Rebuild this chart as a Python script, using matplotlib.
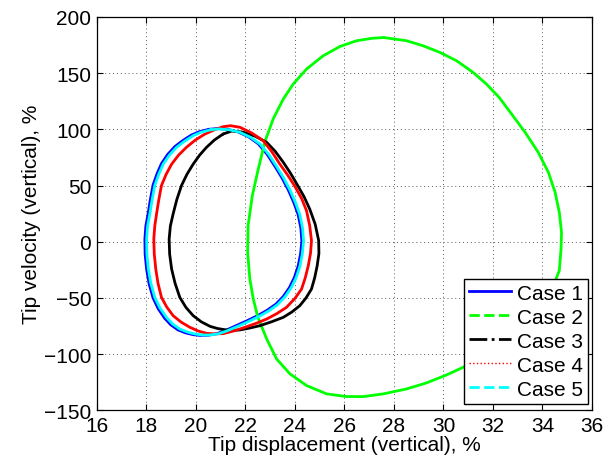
import matplotlib
matplotlib.use("Agg")
import matplotlib.pyplot as plt
from matplotlib.lines import Line2D

plt.rcParams['font.family'] = ['Liberation Sans', 'DejaVu Sans']

# Phase portraits: tip displacement (%) vs tip velocity (%), one closed orbit per case,
# each traced clockwise starting near the top of the orbit.
case1_x = [20.53, 20.88, 21.28, 21.71, 22.13, 22.52, 22.88, 23.19, 23.48, 23.73, 23.95, 24.13,
           24.24, 24.28, 24.23, 24.13, 23.98, 23.78, 23.53, 23.23, 22.88, 22.52, 22.11, 21.71,
           21.17, 20.83, 20.50, 20.18, 19.89, 19.58, 19.28, 18.98, 18.74, 18.48, 18.27, 18.11,
           18.01, 17.95, 17.94, 17.98, 18.07, 18.16, 18.27, 18.43, 18.61, 18.86, 19.15, 19.48,
           19.82, 20.13, 20.53]
case1_y = [100.0, 100.7, 100.0, 97.6, 93.3, 87.1, 77.7, 67.2, 56.7, 46.2, 35.2, 24.2,
           12.2, 0.7, -10.8, -21.8, -31.8, -40.8, -48.8, -55.6, -61.0, -65.5, -69.9, -73.9,
           -79.2, -81.9, -83.2, -83.4, -82.7, -81.1, -78.5, -73.8, -68.1, -59.7, -50.0, -37.4,
           -24.5, -11.1, 2.4, 14.1, 24.8, 37.3, 50.4, 60.4, 69.5, 77.6, 84.6, 90.1,
           94.9, 97.8, 100.0]

case2_x = [27.60, 28.51, 29.18, 29.86, 30.53, 31.20, 31.74, 32.25, 32.80, 33.30, 33.83, 34.24,
           34.51, 34.68, 34.77, 34.75, 34.68, 34.47, 34.17, 33.78, 33.30, 32.75, 32.15, 31.50,
           30.80, 30.13, 29.32, 28.51, 27.57, 26.76, 26.09, 25.28, 24.47, 23.80, 23.26, 22.86,
           22.50, 22.32, 22.18, 22.09, 22.11, 22.28, 22.52, 22.79, 23.12, 23.53, 23.93, 24.47,
           25.14, 25.82, 26.49, 27.16, 27.60]
case2_y = [181.6, 178.8, 174.3, 168.4, 161.0, 150.6, 140.2, 128.4, 112.2, 97.3, 79.5, 61.7,
           44.0, 26.2, 8.4, -6.5, -25.7, -37.5, -50.5, -63.0, -74.5, -85.0, -94.5, -103.5,
           -111.7, -118.5, -125.6, -131.0, -135.4, -137.8, -137.8, -135.4, -128.0, -117.6, -104.3, -86.5,
           -67.0, -51.0, -33.2, -9.4, 14.3, 41.0, 64.7, 89.0, 109.1, 126.9, 140.2, 153.6,
           165.4, 173.7, 178.8, 181.1, 181.6]

case3_x = [21.10, 21.45, 21.90, 22.40, 22.86, 23.20, 23.52, 23.82, 24.10, 24.37, 24.60, 24.82,
           24.96, 24.97, 24.90, 24.80, 24.67, 24.45, 24.20, 23.88, 23.53, 23.05, 22.59, 22.18,
           21.78, 21.45, 21.17, 20.87, 20.57, 20.22, 19.89, 19.60, 19.35, 19.16, 19.02, 18.94,
           18.92, 18.97, 19.08, 19.23, 19.42, 19.64, 19.89, 20.15, 20.43, 20.75, 21.10]
case3_y = [95.8, 98.5, 97.5, 93.8, 88.4, 80.5, 71.0, 61.0, 50.5, 40.0, 29.0, 15.5,
           1.0, -10.5, -21.4, -32.0, -42.1, -50.0, -56.9, -62.5, -67.3, -71.3, -74.7, -76.8,
           -78.5, -79.0, -78.3, -77.2, -75.3, -71.3, -65.8, -58.5, -49.5, -37.0, -24.3, -11.0,
           2.4, 14.0, 24.6, 37.5, 50.0, 60.0, 69.0, 77.0, 84.0, 90.5, 95.8]

case4_x = [20.75, 21.10, 21.40, 21.78, 22.25, 22.72, 23.07, 23.39, 23.70, 23.98, 24.27, 24.47,
           24.60, 24.67, 24.63, 24.54, 24.42, 24.27, 24.00, 23.66, 23.27, 22.86, 22.45, 22.00,
           21.55, 21.10, 20.75, 20.43, 20.10, 19.76, 19.40, 19.08, 18.82, 18.61, 18.47, 18.38,
           18.32, 18.30, 18.34, 18.41, 18.50, 18.61, 18.80, 19.02, 19.30, 19.62, 19.98, 20.36,
           20.75]
case4_y = [99.6, 102.3, 103.2, 101.8, 96.8, 89.9, 80.0, 69.1, 59.5, 50.0, 38.5, 27.6,
           14.0, 0.9, -10.5, -21.4, -32.0, -42.1, -50.5, -58.4, -64.0, -68.8, -72.5, -76.0,
           -79.3, -81.8, -82.0, -81.5, -79.5, -76.2, -71.5, -65.8, -58.0, -49.5, -37.0, -24.3,
           -11.0, 2.4, 14.0, 24.6, 37.0, 50.0, 60.0, 69.0, 77.0, 84.0, 90.5, 95.7,
           99.6]

case5_x = [20.60, 20.95, 21.35, 21.78, 22.20, 22.59, 22.95, 23.26, 23.55, 23.80, 24.02, 24.20,
           24.31, 24.35, 24.30, 24.20, 24.05, 23.85, 23.60, 23.30, 22.95, 22.59, 22.18, 21.78,
           21.24, 20.90, 20.57, 20.25, 19.96, 19.65, 19.35, 19.05, 18.81, 18.55, 18.34, 18.18,
           18.08, 18.02, 18.01, 18.05, 18.14, 18.23, 18.34, 18.50, 18.68, 18.93, 19.22, 19.55,
           19.89, 20.20, 20.60]
case5_y = [99.6, 100.3, 99.6, 97.3, 93.0, 86.9, 77.5, 67.0, 56.5, 46.0, 35.0, 24.0,
           12.0, 0.5, -11.0, -22.0, -32.0, -41.0, -49.0, -56.0, -61.5, -66.0, -70.5, -74.5,
           -79.5, -82.0, -83.0, -83.0, -82.1, -80.3, -77.7, -73.0, -67.3, -59.0, -49.5, -37.0,
           -24.3, -11.0, 2.4, 14.0, 24.6, 37.0, 50.0, 60.0, 69.0, 77.0, 84.0, 89.5,
           94.3, 97.3, 99.6]

labels = ['Case 1', 'Case 2', 'Case 3', 'Case 4', 'Case 5']
colors = ['#0000ff', '#00ff00', '#000000', '#ff0000', '#00ffff']
styles = ['-', '--', '-.', ':', '--']

x_ticks = list(range(16, 37, 2))
y_ticks = list(range(-150, 201, 50))

fig = plt.figure(figsize=(6.13, 4.64), dpi=100)
ax = fig.add_axes([0.158, 0.1136, 0.8077, 0.8478])

series = [(case1_x, case1_y), (case2_x, case2_y), (case3_x, case3_y),
          (case4_x, case4_y), (case5_x, case5_y)]
for (xs, ys), c in zip(series, colors):
    ax.plot(xs, ys, color=c, lw=2.0, solid_joinstyle='round', solid_capstyle='round')

ax.set_xlim(16, 36)
ax.set_ylim(-150, 200)
ax.set_xticks(x_ticks)
ax.set_yticks(y_ticks)
ax.tick_params(direction='in', length=4, width=0.8, top=True, right=True,
               labelsize=15, pad=4, colors='black')
for s in ax.spines.values():
    s.set_linewidth(0.9)

ax.grid(True, color='0.35', linestyle=(0, (1, 3)), linewidth=0.7)
ax.set_axisbelow(True)

ax.set_xlabel('Tip displacement (vertical), %', fontsize=15, labelpad=0)
ax.set_ylabel('Tip velocity (vertical), %', fontsize=15, labelpad=2)

handles = [Line2D([], [], color=c, ls=s, lw=2.0 if s != ':' else 1.0)
           for c, s in zip(colors, styles)]
leg = ax.legend(handles, labels, loc='lower right', bbox_to_anchor=(0.992, 0.016),
                borderaxespad=0, fontsize=15, fancybox=False, framealpha=1,
                edgecolor='black', handlelength=2.0, handletextpad=0.3,
                borderpad=0.25, labelspacing=0.24)
leg.get_frame().set_linewidth(1.0)

fig.savefig('out.png', dpi=100)
